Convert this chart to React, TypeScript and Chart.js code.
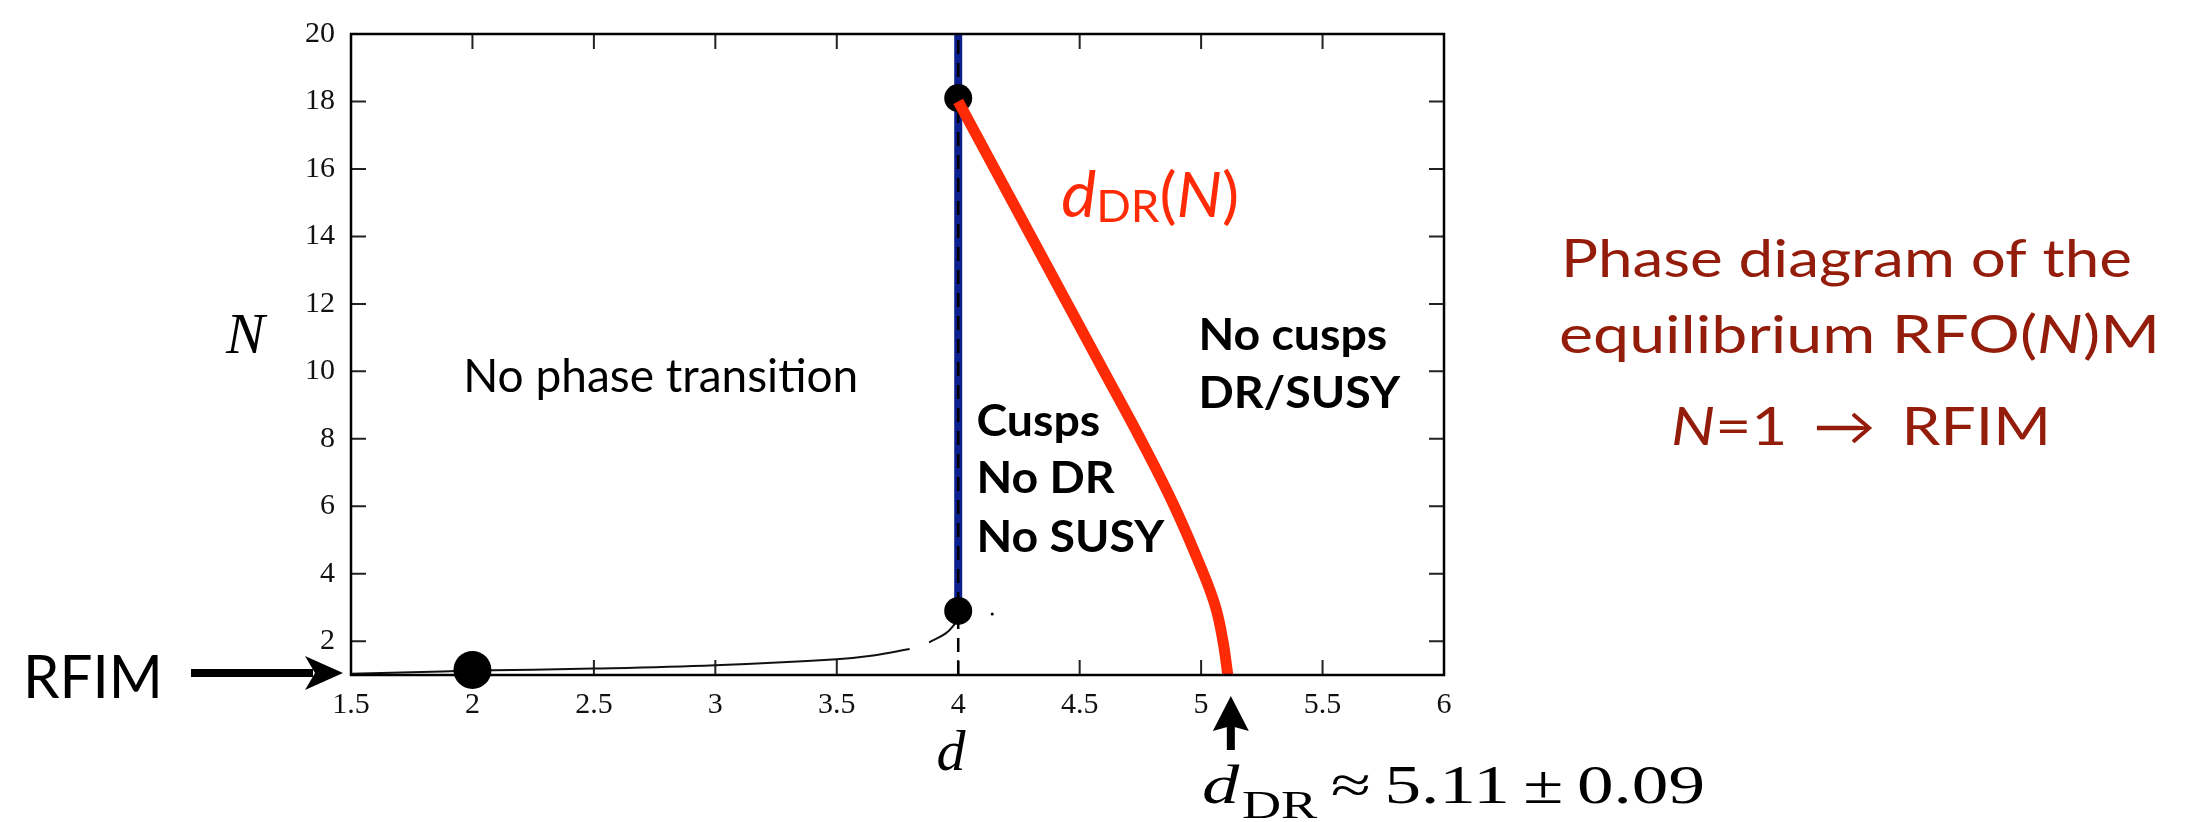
import React, { useEffect, useRef } from "react";
import { Chart, registerables } from "chart.js";

Chart.register(...registerables);

// ---------- data ----------
const X_TICKS = [1.5, 2, 2.5, 3, 3.5, 4, 4.5, 5, 5.5, 6];
const Y_TICKS = [2, 4, 6, 8, 10, 12, 14, 16, 18, 20];
const X_MIN = 1.5;
const X_MAX = 6;
const Y_MIN = 1;
const Y_MAX = 20;

// red critical curve d_DR(N)
const RED_D = [4.0, 4.15, 4.3, 4.45, 4.6, 4.75, 4.89, 5.01, 5.06, 5.09, 5.11];
const RED_N = [18, 16, 14, 12, 10, 8, 6, 4, 3, 2, 1];

// blue line at d = 4 (cusps region boundary)
const BLUE_D = [4, 4];
const BLUE_N = [2.9, 20];

// dashed d = 4 line
const DASH_D = [4, 4];
const DASH_N = [1, 20];

// thin black curve (lower critical line)
const FLOW1_D = [1.5, 1.75, 2.0, 2.5, 3.0, 3.5, 3.65, 3.8];
const FLOW1_N = [1.04, 1.08, 1.13, 1.19, 1.29, 1.47, 1.58, 1.77];
const FLOW2_D = [3.88, 3.95, 3.99];
const FLOW2_N = [1.97, 2.24, 2.55];

// black dots
const DOT_D = [2, 4, 4];
const DOT_N = [1.15, 2.9, 18.1];
const SPECK_D = [4.14];
const SPECK_N = [2.81];

const DR_VALUE = 5.11;
const DR_ERR = 0.09;

const REGION_LABELS = ["No phase transition"];
const CUSP_LABELS = ["Cusps", "No DR", "No SUSY"];
const NOCUSP_LABELS = ["No cusps", "DR/SUSY"];

const SANS = 'Lato, "Open Sans", sans-serif';
const SERIF = '"Liberation Serif", "Times New Roman", serif';
const DARK_RED = "#941c0b";

const pts = (xs: number[], ys: number[]) => xs.map((x, i) => ({ x, y: ys[i] }));

type Run = { t: string; f: string; dy?: number; gap?: number };

function drawRuns(
  ctx: CanvasRenderingContext2D,
  runs: Run[],
  x: number,
  y: number,
  color: string,
  opts: { align?: "left" | "center"; width?: number; sx?: number } = {}
) {
  let w = 0;
  for (const r of runs) {
    ctx.font = r.f;
    w += ctx.measureText(r.t).width + (r.gap ?? 0);
  }
  const sx = opts.width ? opts.width / w : opts.sx ?? 1;
  const total = w * sx;
  const x0 = opts.align === "center" ? x - total / 2 : x;
  ctx.save();
  ctx.translate(x0, y);
  ctx.scale(sx, 1);
  ctx.fillStyle = color;
  ctx.textAlign = "left";
  ctx.textBaseline = "alphabetic";
  let cx = 0;
  for (const r of runs) {
    ctx.font = r.f;
    ctx.fillText(r.t, cx, r.dy ?? 0);
    cx += ctx.measureText(r.t).width + (r.gap ?? 0);
  }
  ctx.restore();
}

const overlay = {
  id: "overlay",
  beforeDatasetsDraw(chart: any) {
    const { ctx, chartArea } = chart;
    const { left, right, top, bottom } = chartArea;
    const xs = chart.scales.x;
    const ys = chart.scales.y;
    ctx.save();
    // inward ticks
    ctx.strokeStyle = "#222";
    ctx.lineWidth = 2;
    const TL = 15;
    ctx.beginPath();
    for (const v of X_TICKS) {
      const px = xs.getPixelForValue(v);
      ctx.moveTo(px, bottom);
      ctx.lineTo(px, bottom - TL);
      ctx.moveTo(px, top);
      ctx.lineTo(px, top + TL);
    }
    for (const v of Y_TICKS) {
      const py = ys.getPixelForValue(v);
      ctx.moveTo(left, py);
      ctx.lineTo(left + TL, py);
      ctx.moveTo(right, py);
      ctx.lineTo(right - TL, py);
    }
    ctx.stroke();
    ctx.restore();
  },
  afterDatasetsDraw(chart: any) {
    const { ctx, chartArea } = chart;
    const { left, right, top, bottom } = chartArea;
    ctx.save();
    ctx.strokeStyle = "#000";
    ctx.lineWidth = 2.5;
    ctx.strokeRect(left, top, right - left, bottom - top);
    ctx.restore();
  },
  afterDraw(chart: any) {
    const { ctx, chartArea } = chart;
    const xs = chart.scales.x;
    const ys = chart.scales.y;
    const px = (v: number) => xs.getPixelForValue(v);
    const py = (v: number) => ys.getPixelForValue(v);

    // region labels
    drawRuns(ctx, [{ t: REGION_LABELS[0], f: `46px ${SANS}` }], px(1.962), py(9.38), "#000");
    const cuspBase = [8.08, 6.38, 4.64];
    CUSP_LABELS.forEach((t, i) =>
      drawRuns(ctx, [{ t, f: `bold 43px ${SANS}` }], px(4.075), py(cuspBase[i]), "#000", { sx: 1.08 })
    );
    const noCuspBase = [10.62, 8.92];
    NOCUSP_LABELS.forEach((t, i) =>
      drawRuns(ctx, [{ t, f: `bold 43px ${SANS}` }], px(4.989), py(noCuspBase[i]), "#000", { sx: 1.08 })
    );

    // red d_DR(N)
    drawRuns(
      ctx,
      [
        { t: "d", f: `italic 64px ${SANS}` },
        { t: "DR", f: `44px ${SANS}`, dy: 5 },
        { t: "(", f: `62px ${SANS}` },
        { t: "N", f: `italic 62px ${SANS}` },
        { t: ")", f: `62px ${SANS}` },
      ],
      px(4.424),
      py(14.59),
      "#ff2b06",
      { width: 178 }
    );

    // axis titles
    drawRuns(ctx, [{ t: "N", f: `italic 58px ${SERIF}` }], chartArea.left - 125, 353, "#000");
    drawRuns(ctx, [{ t: "d", f: `italic 58px ${SERIF}` }], px(3.97), 770, "#000", { align: "center" });

    // RFIM arrow on the left
    drawRuns(ctx, [{ t: "RFIM", f: `60px ${SANS}` }], 23, 698, "#000", { width: 140 });
    ctx.save();
    ctx.fillStyle = "#000";
    const ay = chartArea.bottom - 2;
    ctx.fillRect(191, ay - 4, 122, 8);
    ctx.beginPath();
    ctx.moveTo(chartArea.left - 8, ay);
    ctx.lineTo(chartArea.left - 46, ay - 17);
    ctx.lineTo(chartArea.left - 36, ay);
    ctx.lineTo(chartArea.left - 46, ay + 17);
    ctx.closePath();
    ctx.fill();

    // upward arrow at d_DR
    const ux = px(DR_VALUE) + 3;
    ctx.fillRect(ux - 4, 726, 8, 24);
    ctx.beginPath();
    ctx.moveTo(ux, 696);
    ctx.lineTo(ux - 18, 731);
    ctx.lineTo(ux, 726);
    ctx.lineTo(ux + 18, 731);
    ctx.closePath();
    ctx.fill();
    ctx.restore();

    // d_DR ≈ 5.11 ± 0.09
    drawRuns(
      ctx,
      [
        { t: "d", f: `italic 55px ${SERIF}`, gap: 2 },
        { t: "DR", f: `40px ${SERIF}`, dy: 15, gap: 10 },
        { t: "≈", f: `54px ${SERIF}`, gap: 10 },
        { t: DR_VALUE.toFixed(2), f: `54px ${SERIF}`, gap: 10 },
        { t: "±", f: `54px ${SERIF}`, gap: 10 },
        { t: DR_ERR.toFixed(2), f: `54px ${SERIF}` },
      ],
      1202,
      803,
      "#000",
      { width: 503 }
    );

    // right-hand caption
    drawRuns(ctx, [{ t: "Phase diagram of the", f: `53px ${SANS}` }], 1561, 277, DARK_RED, { width: 571 });
    drawRuns(
      ctx,
      [
        { t: "equilibrium RFO(", f: `53px ${SANS}` },
        { t: "N", f: `italic 53px ${SANS}` },
        { t: ")M", f: `53px ${SANS}` },
      ],
      1559,
      353,
      DARK_RED,
      { width: 601 }
    );
    drawRuns(
      ctx,
      [
        { t: "N", f: `italic 53px ${SANS}` },
        { t: "=1", f: `53px ${SANS}`, gap: 22 },
        { t: "→", f: `53px ${SANS}`, gap: 22 },
        { t: "RFIM", f: `53px ${SANS}` },
      ],
      1671,
      445,
      DARK_RED,
      { width: 380 }
    );
  },
};

export default function App() {
  const ref = useRef<HTMLCanvasElement>(null);
  useEffect(() => {
    document.body.style.margin = "0";
    const tickFont = { family: SERIF, size: 30 };
    const chart = new Chart(ref.current as HTMLCanvasElement, {
      type: "scatter",
      data: {
        datasets: [
          {
            data: pts(RED_D, RED_N),
            showLine: true,
            borderColor: "#ff2b06",
            borderWidth: 11,
            pointRadius: 0,
            tension: 0.4,
            order: 1,
          },
          {
            data: pts(DOT_D, DOT_N),
            showLine: false,
            pointRadius: [19, 14, 14],
            pointBackgroundColor: "#000",
            pointBorderColor: "#000",
            pointBorderWidth: 0,
            clip: false,
            order: 2,
          },
          {
            data: pts(SPECK_D, SPECK_N),
            showLine: false,
            pointRadius: 1.5,
            pointBackgroundColor: "#000",
            pointBorderWidth: 0,
            order: 2,
          },
          {
            data: pts(FLOW1_D, FLOW1_N),
            showLine: true,
            borderColor: "#111",
            borderWidth: 2,
            pointRadius: 0,
            tension: 0.4,
            order: 3,
          },
          {
            data: pts(FLOW2_D, FLOW2_N),
            showLine: true,
            borderColor: "#111",
            borderWidth: 2,
            pointRadius: 0,
            tension: 0.4,
            order: 3,
          },
          {
            data: pts(DASH_D, DASH_N),
            showLine: true,
            borderColor: "#000",
            borderWidth: 2.5,
            borderDash: [14, 9],
            pointRadius: 0,
            order: 4,
          },
          {
            data: pts(BLUE_D, BLUE_N),
            showLine: true,
            borderColor: "#0b1f8f",
            borderWidth: 8,
            pointRadius: 0,
            order: 5,
          },
        ],
      } as any,
      options: {
        responsive: false,
        animation: false,
        devicePixelRatio: 1,
        events: [],
        layout: { padding: { top: 22, right: 744, left: 0, bottom: 0 } },
        plugins: { legend: { display: false }, tooltip: { enabled: false } },
        scales: {
          x: {
            type: "linear",
            min: X_MIN,
            max: X_MAX,
            afterBuildTicks: (s: any) => {
              s.ticks = X_TICKS.map((value) => ({ value }));
            },
            afterFit: (s: any) => {
              s.height = 147;
            },
            grid: { display: false, drawTicks: false },
            border: { display: false },
            ticks: {
              font: tickFont,
              color: "#111",
              padding: 12,
              maxRotation: 0,
              autoSkip: false,
              callback: (v: any) => String(v),
            },
          },
          y: {
            type: "linear",
            min: Y_MIN,
            max: Y_MAX,
            afterBuildTicks: (s: any) => {
              s.ticks = Y_TICKS.map((value) => ({ value }));
            },
            afterFit: (s: any) => {
              s.width = 351;
            },
            grid: { display: false, drawTicks: false },
            border: { display: false },
            ticks: {
              font: tickFont,
              color: "#111",
              padding: 16,
              autoSkip: false,
              callback: (v: any) => String(v),
            },
          },
        },
      } as any,
      plugins: [overlay],
    });
    return () => chart.destroy();
  }, []);
  return <canvas ref={ref} width={2188} height={822} style={{ display: "block" }} />;
}
